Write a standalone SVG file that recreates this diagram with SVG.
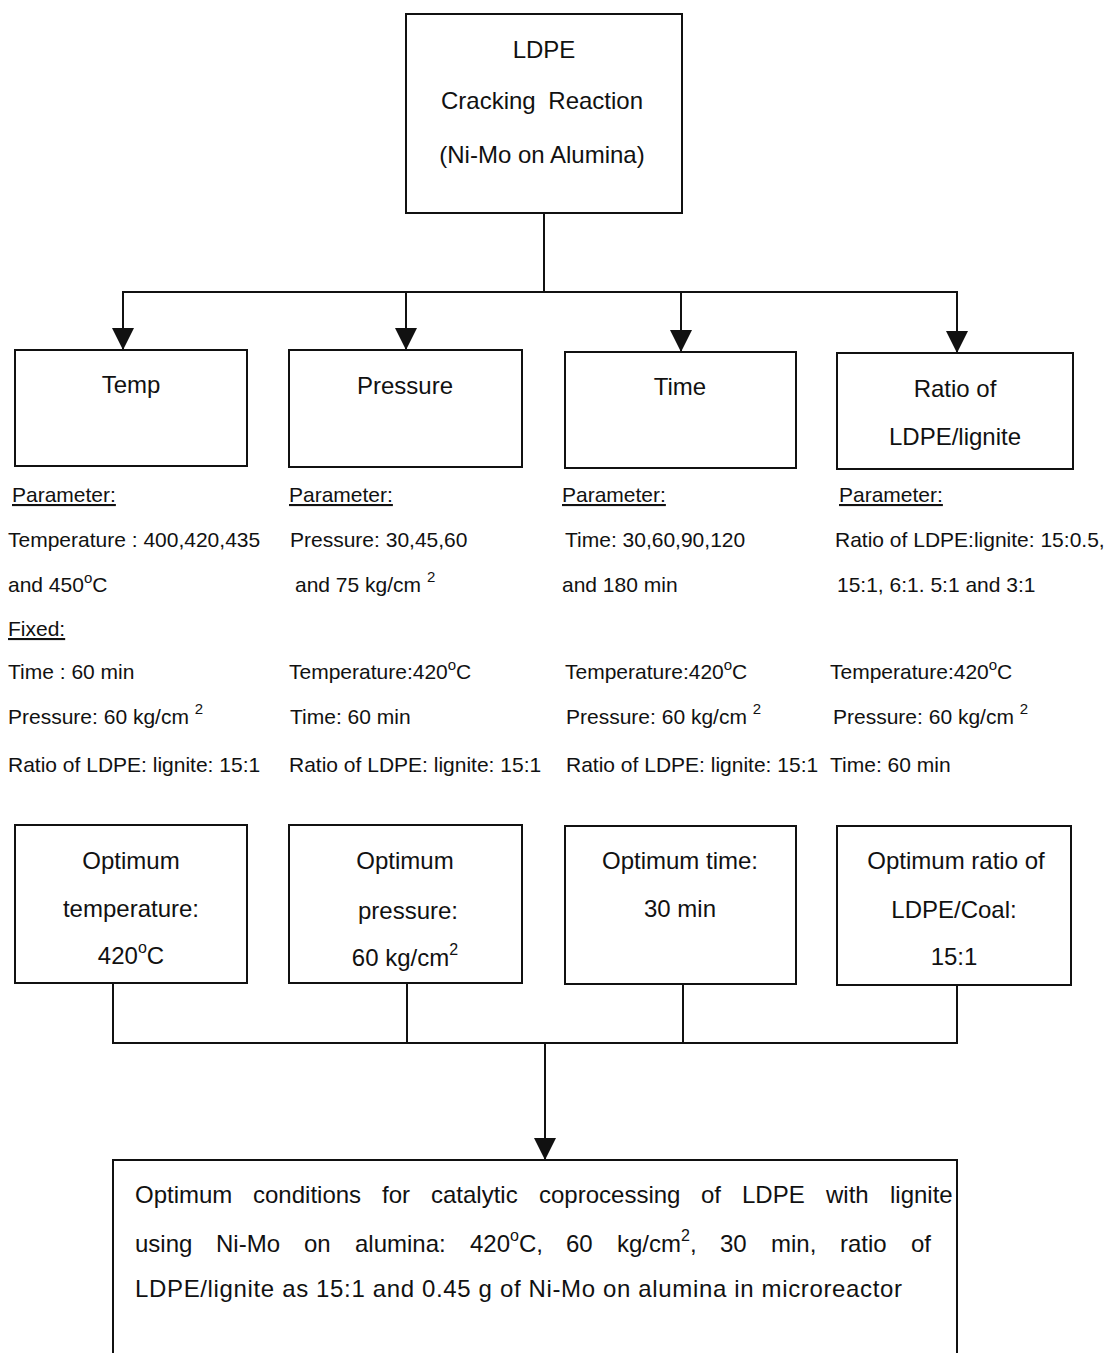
<svg xmlns="http://www.w3.org/2000/svg" width="1112" height="1353" viewBox="0 0 1112 1353">
<style>
  text { font-family: "Liberation Sans", Arial, sans-serif; fill: #111; }
  .box { fill: #fff; stroke: #111; stroke-width: 2; }
  .lbl { font-size: 24px; text-anchor: middle; }
  .par { font-size: 21px; }
  .u { text-decoration: underline; }
  .fin { font-size: 24px; }
  .con { fill: none; stroke: #111; stroke-width: 2; }
  .sup { font-size: 15px; }
</style>
<defs>
  <marker id="tri" markerUnits="userSpaceOnUse" markerWidth="22" markerHeight="22" refX="22" refY="11" orient="auto" viewBox="0 0 22 22">
    <path d="M0,0 L22,11 L0,22 Z" fill="#111"/>
  </marker>
</defs>
<rect width="1112" height="1353" fill="#fff"/>

<g id="connectors">
  <line class="con" x1="544" y1="213" x2="544" y2="292"/>
  <line class="con" x1="122" y1="292" x2="958" y2="292"/>
  <line class="con" x1="123" y1="292" x2="123" y2="350" marker-end="url(#tri)"/>
  <line class="con" x1="406" y1="292" x2="406" y2="350" marker-end="url(#tri)"/>
  <line class="con" x1="681" y1="292" x2="681" y2="352" marker-end="url(#tri)"/>
  <line class="con" x1="957" y1="292" x2="957" y2="353" marker-end="url(#tri)"/>
  <line class="con" x1="113" y1="983" x2="113" y2="1043"/>
  <line class="con" x1="407" y1="983" x2="407" y2="1043"/>
  <line class="con" x1="683" y1="984" x2="683" y2="1043"/>
  <line class="con" x1="957" y1="985" x2="957" y2="1043"/>
  <line class="con" x1="112" y1="1043" x2="958" y2="1043"/>
  <line class="con" x1="545" y1="1043" x2="545" y2="1160" marker-end="url(#tri)"/>
</g>

<g id="top">
  <rect class="box" x="406" y="14" width="276" height="199"/>
  <text class="lbl" x="544" y="58">LDPE</text>
  <text class="lbl" x="542" y="109" word-spacing="6">Cracking Reaction</text>
  <text class="lbl" x="542" y="163">(Ni-Mo on Alumina)</text>
</g>

<g id="temp">
  <rect class="box" x="15" y="350" width="232" height="116"/>
  <text class="lbl" x="131" y="393">Temp</text>
</g>
<g id="pressure">
  <rect class="box" x="289" y="350" width="233" height="117"/>
  <text class="lbl" x="405" y="394">Pressure</text>
</g>
<g id="time">
  <rect class="box" x="565" y="352" width="231" height="116"/>
  <text class="lbl" x="680" y="395">Time</text>
</g>
<g id="ratio">
  <rect class="box" x="837" y="353" width="236" height="116"/>
  <text class="lbl" x="955" y="397">Ratio of</text>
  <text class="lbl" x="955" y="445">LDPE/lignite</text>
</g>

<g id="params-temp">
  <text class="par u" x="12" y="502">Parameter:</text>
  <text class="par" x="8" y="547">Temperature : 400,420,435</text>
  <text class="par" x="8" y="592">and 450<tspan class="sup" dy="-9">o</tspan><tspan dy="9">C</tspan></text>
  <text class="par u" x="8" y="636">Fixed:</text>
  <text class="par" x="8" y="679">Time : 60 min</text>
  <text class="par" x="8" y="724">Pressure: 60 kg/cm <tspan class="sup" dy="-10">2</tspan></text>
  <text class="par" x="8" y="772">Ratio of LDPE: lignite: 15:1</text>
</g>
<g id="params-pressure">
  <text class="par u" x="289" y="502">Parameter:</text>
  <text class="par" x="290" y="547">Pressure: 30,45,60</text>
  <text class="par" x="295" y="592">and 75 kg/cm <tspan class="sup" dy="-10">2</tspan></text>
  <text class="par" x="289" y="679">Temperature:420<tspan class="sup" dy="-9">o</tspan><tspan dy="9">C</tspan></text>
  <text class="par" x="290" y="724">Time: 60 min</text>
  <text class="par" x="289" y="772">Ratio of LDPE: lignite: 15:1</text>
</g>
<g id="params-time">
  <text class="par u" x="562" y="502">Parameter:</text>
  <text class="par" x="565" y="547">Time: 30,60,90,120</text>
  <text class="par" x="562" y="592">and 180 min</text>
  <text class="par" x="565" y="679">Temperature:420<tspan class="sup" dy="-9">o</tspan><tspan dy="9">C</tspan></text>
  <text class="par" x="566" y="724">Pressure: 60 kg/cm <tspan class="sup" dy="-10">2</tspan></text>
  <text class="par" x="566" y="772">Ratio of LDPE: lignite: 15:1</text>
</g>
<g id="params-ratio">
  <text class="par u" x="839" y="502">Parameter:</text>
  <text class="par" x="835" y="547">Ratio of LDPE:lignite: 15:0.5,</text>
  <text class="par" x="837" y="592">15:1, 6:1. 5:1 and 3:1</text>
  <text class="par" x="830" y="679">Temperature:420<tspan class="sup" dy="-9">o</tspan><tspan dy="9">C</tspan></text>
  <text class="par" x="833" y="724">Pressure: 60 kg/cm <tspan class="sup" dy="-10">2</tspan></text>
  <text class="par" x="830" y="772">Time: 60 min</text>
</g>

<g id="opt-temp">
  <rect class="box" x="15" y="825" width="232" height="158"/>
  <text class="lbl" x="131" y="869">Optimum</text>
  <text class="lbl" x="131" y="917">temperature:</text>
  <text class="lbl" x="131" y="964">420<tspan font-size="16" dy="-11">o</tspan><tspan dy="11">C</tspan></text>
</g>
<g id="opt-pressure">
  <rect class="box" x="289" y="825" width="233" height="158"/>
  <text class="lbl" x="405" y="869">Optimum</text>
  <text class="lbl" x="408" y="919">pressure:</text>
  <text class="lbl" x="405" y="966">60 kg/cm<tspan font-size="16" dy="-11">2</tspan></text>
</g>
<g id="opt-time">
  <rect class="box" x="565" y="826" width="231" height="158"/>
  <text class="lbl" x="680" y="869">Optimum time:</text>
  <text class="lbl" x="680" y="917">30 min</text>
</g>
<g id="opt-ratio">
  <rect class="box" x="837" y="826" width="234" height="159"/>
  <text class="lbl" x="956" y="869">Optimum ratio of</text>
  <text class="lbl" x="954" y="918">LDPE/Coal:</text>
  <text class="lbl" x="954" y="965">15:1</text>
</g>

<g id="final">
  <path class="con" d="M113,1360 L113,1160 L957,1160 L957,1360"/>
  <text class="fin" y="1203"><tspan x="135">Optimum</tspan><tspan x="253">conditions</tspan><tspan x="382">for</tspan><tspan x="431">catalytic</tspan><tspan x="539">coprocessing</tspan><tspan x="701">of</tspan><tspan x="742">LDPE</tspan><tspan x="826">with</tspan><tspan x="890">lignite</tspan></text>
  <text class="fin" y="1252"><tspan x="135">using</tspan><tspan x="216">Ni-Mo</tspan><tspan x="304">on</tspan><tspan x="355">alumina:</tspan><tspan x="470">420</tspan><tspan font-size="16" dy="-11">o</tspan><tspan dy="11">C,</tspan><tspan x="566">60</tspan><tspan x="617">kg/cm</tspan><tspan font-size="16" dy="-11">2</tspan><tspan dy="11">,</tspan><tspan x="720">30</tspan><tspan x="771">min,</tspan><tspan x="840">ratio</tspan><tspan x="911">of</tspan></text>
  <text class="fin" x="135" y="1297" textLength="767" lengthAdjust="spacing">LDPE/lignite as 15:1 and 0.45 g of Ni-Mo on alumina in microreactor</text>
</g>
</svg>
